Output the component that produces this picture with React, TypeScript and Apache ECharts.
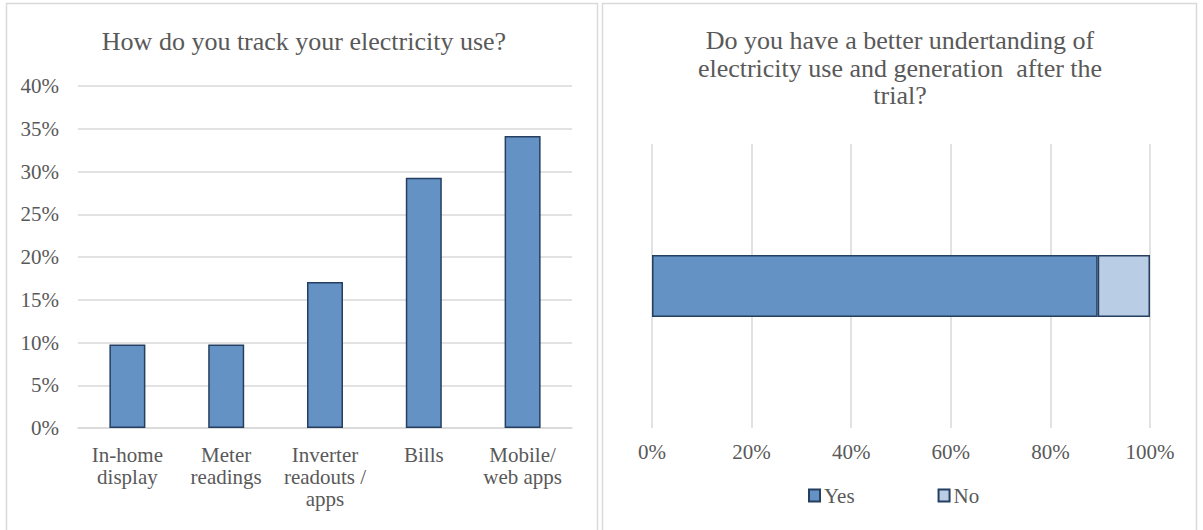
import React, { useEffect, useRef } from "react";
import * as echarts from "echarts";

const trackCategories = [
  "In-home\ndisplay",
  "Meter\nreadings",
  "Inverter\nreadouts /\napps",
  "Bills",
  "Mobile/\nweb apps",
];
const trackValues = [0.0976, 0.0976, 0.1707, 0.2927, 0.3415];

const understandCategories = ["All respondents"];
const yesValues = [0.895];
const noValues = [0.105];
const legendNames = ["Yes", "No"];

const leftTitle = "How do you track your electricity use?";
const rightTitle =
  "Do you have a better undertanding of\nelectricity use and generation  after the\ntrial?";

const FONT = "Liberation Serif";
const TEXT = "#595959";
const GRID = "#D9D9D9";
const BAR = "#6592C5";
const BAR_LIGHT = "#B9CDE5";
const BORDER = "#243F60";
const TICK_SIZE = 21;
const TITLE_SIZE = 26;

const pct = (v: number) => Math.round(v * 100) + "%";

export default function App() {
  const ref = useRef<HTMLDivElement>(null);
  useEffect(() => {
    document.body.style.margin = "0";
    const chart = echarts.init(ref.current!, undefined, { renderer: "svg" });
    chart.setOption({
      animation: false,
      backgroundColor: "#ffffff",
      textStyle: { fontFamily: FONT, color: TEXT },
      graphic: [
        {
          type: "rect",
          shape: { x: 6.5, y: 3.5, width: 591, height: 540 },
          style: { fill: "none", stroke: GRID, lineWidth: 1.5 },
          silent: true,
        },
        {
          type: "rect",
          shape: { x: 602.5, y: 3.5, width: 594, height: 540 },
          style: { fill: "none", stroke: GRID, lineWidth: 1.5 },
          silent: true,
        },
        {
          type: "text",
          x: 304,
          y: 41,
          style: {
            text: leftTitle,
            textAlign: "center",
            textVerticalAlign: "middle",
            fontFamily: FONT,
            fontSize: TITLE_SIZE,
            fill: TEXT,
          },
        },
        {
          type: "text",
          x: 900,
          y: 68,
          style: {
            text: rightTitle,
            textAlign: "center",
            textVerticalAlign: "middle",
            fontFamily: FONT,
            fontSize: TITLE_SIZE,
            lineHeight: 27.5,
            fill: TEXT,
          },
        },
      ],
      grid: [
        { left: 78, right: 631, top: 86, bottom: 102 },
        { left: 652, right: 53, top: 144, bottom: 102 },
      ],
      legend: {
        data: legendNames,
        left: 803,
        top: 480,
        icon: "rect",
        itemWidth: 11,
        itemHeight: 12,
        itemGap: 83,
        textStyle: { fontFamily: FONT, fontSize: TICK_SIZE, color: TEXT, padding: [0, 0, 0, -1] },
      },
      xAxis: [
        {
          gridIndex: 0,
          type: "category",
          data: trackCategories,
          axisLine: { lineStyle: { color: GRID, width: 1.5 } },
          axisTick: { show: false },
          axisLabel: {
            interval: 0,
            fontFamily: FONT,
            fontSize: TICK_SIZE,
            lineHeight: 22,
            color: TEXT,
            margin: 16,
          },
        },
        {
          gridIndex: 1,
          type: "value",
          min: 0,
          max: 1,
          interval: 0.2,
          axisLine: { show: false },
          axisTick: { show: false },
          splitLine: { lineStyle: { color: GRID, width: 1.5 } },
          axisLabel: {
            formatter: pct,
            fontFamily: FONT,
            fontSize: TICK_SIZE,
            color: TEXT,
            margin: 13,
          },
        },
      ],
      yAxis: [
        {
          gridIndex: 0,
          type: "value",
          min: 0,
          max: 0.4,
          interval: 0.05,
          axisLine: { show: false },
          axisTick: { show: false },
          splitLine: { lineStyle: { color: GRID, width: 1.5 } },
          axisLabel: {
            formatter: pct,
            fontFamily: FONT,
            fontSize: TICK_SIZE,
            color: TEXT,
            margin: 19,
          },
        },
        {
          gridIndex: 1,
          type: "category",
          data: understandCategories,
          show: false,
        },
      ],
      series: [
        {
          type: "bar",
          name: "Share",
          xAxisIndex: 0,
          yAxisIndex: 0,
          data: trackValues,
          barWidth: 36,
          itemStyle: { color: BAR, borderColor: BORDER, borderWidth: 1.5 },
        },
        {
          type: "bar",
          name: "Yes",
          stack: "understand",
          xAxisIndex: 1,
          yAxisIndex: 1,
          data: yesValues,
          barWidth: 62,
          itemStyle: { color: BAR, borderColor: BORDER, borderWidth: 1.5 },
        },
        {
          type: "bar",
          name: "No",
          stack: "understand",
          xAxisIndex: 1,
          yAxisIndex: 1,
          data: noValues,
          barWidth: 62,
          itemStyle: { color: BAR_LIGHT, borderColor: BORDER, borderWidth: 1.5 },
        },
      ],
    });
    return () => chart.dispose();
  }, []);
  return <div ref={ref} style={{ width: 1203, height: 530 }} />;
}
